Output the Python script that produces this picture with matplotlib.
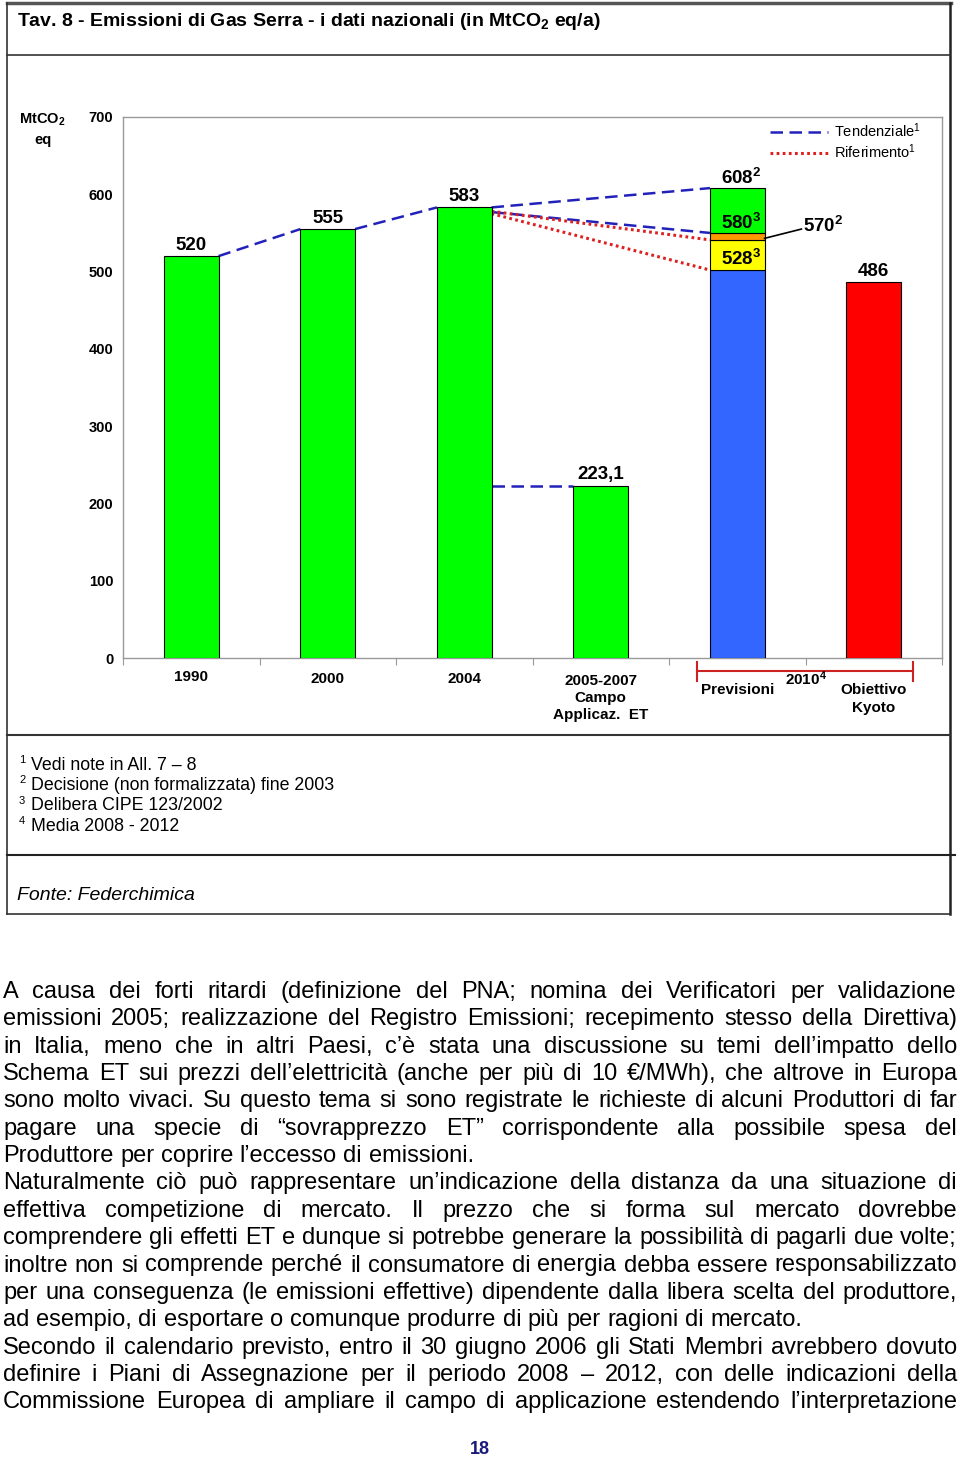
import matplotlib
matplotlib.use("Agg")
import matplotlib.pyplot as plt
from matplotlib.lines import Line2D

plt.rcParams['font.family'] = ['Liberation Sans', 'DejaVu Sans']
plt.rcParams['mathtext.default'] = 'regular'   # super/subscripts in the text font

########################################################################
### Data
categories = ["1990", "2000", "2004", "2005-2007\nCampo\nApplicaz.  ET"]
hist_values = [520, 555, 583, 223.1]
hist_labels = ["520", "555", "583", "223,1"]

# Previsioni 2010: stacked segments (top of blue, yellow, orange, green)
prev_levels = [502, 541, 550, 608]
prev_colors = ["#3366ff", "#ffff00", "#ff9900", "#00ff00"]
prev_labels = ["608$^2$", "580$^3$", "570$^2$", "528$^3$"]

kyoto_value = 486
kyoto_label = "486"

yticks = [0, 100, 200, 300, 400, 500, 600, 700]

# connecting lines: (from category, from value, to category, to value)
tend_lines = [(0, 520, 1, 555), (1, 555, 2, 583), (2, 583, 4, 608),
              (2, 577, 4, 550), (2, 223.1, 3, 223.1)]
rif_lines = [(2, 578, 4, 541), (2, 575, 4, 502)]

notes = ["Vedi note in All. 7 – 8",
         "Decisione (non formalizzata) fine 2003",
         "Delibera CIPE 123/2002",
         "Media 2008 - 2012"]

body_lines = [
    ("A causa dei forti ritardi (definizione del PNA; nomina dei Verificatori per validazione", True),
    ("emissioni 2005; realizzazione del Registro Emissioni; recepimento stesso della Direttiva)", True),
    ("in Italia, meno che in altri Paesi, c’è stata una discussione su temi dell’impatto dello", True),
    ("Schema ET sui prezzi dell’elettricità (anche per più di 10 €/MWh), che altrove in Europa", True),
    ("sono molto vivaci. Su questo tema si sono registrate le richieste di alcuni Produttori di far", True),
    ("pagare una specie di “sovrapprezzo ET” corrispondente alla possibile spesa del", True),
    ("Produttore per coprire l’eccesso di emissioni.", False),
    ("Naturalmente ciò può rappresentare un’indicazione della distanza da una situazione di", True),
    ("effettiva competizione di mercato. Il prezzo che si forma sul mercato dovrebbe", True),
    ("comprendere gli effetti ET e dunque si potrebbe generare la possibilità di pagarli due volte;", True),
    ("inoltre non si comprende perché il consumatore di energia debba essere responsabilizzato", True),
    ("per una conseguenza (le emissioni effettive) dipendente dalla libera scelta del produttore,", True),
    ("ad esempio, di esportare o comunque produrre di più per ragioni di mercato.", False),
    ("Secondo il calendario previsto, entro il 30 giugno 2006 gli Stati Membri avrebbero dovuto", True),
    ("definire i Piani di Assegnazione per il periodo 2008 – 2012, con delle indicazioni della", True),
    ("Commissione Europea di ampliare il campo di applicazione estendendo l’interpretazione", True),
]

########################################################################
### Figure and page overlay (pixel coordinates)
W, H = 960, 1463
fig = plt.figure(figsize=(W / 100, H / 100), dpi=100)
ov = fig.add_axes([0, 0, 1, 1])
ov.set_xlim(0, W)
ov.set_ylim(H, 0)
ov.axis("off")

# table frame
ov.plot([7, 951], [3, 3], color="#555555", lw=2.5)
ov.plot([7, 7], [3, 914], color="#333333", lw=1.2)
ov.plot([950, 950], [3, 914], color="#222222", lw=1.8)
ov.plot([7, 950], [55, 55], color="#333333", lw=1.2)
ov.plot([7, 950], [735, 735], color="#333333", lw=1.5)
ov.plot([7, 955], [855, 855], color="#222222", lw=1.5)
ov.plot([7, 950], [914, 914], color="#333333", lw=1.2)

ov.text(17, 21, "Tav. 8 - Emissioni di Gas Serra - i dati nazionali (in MtCO$_2$ eq/a)",
        fontsize=14, fontweight="bold", va="center", ha="left")
ov.text(42, 120, "MtCO$_2$", fontsize=10.5, fontweight="bold", va="center", ha="center")
ov.text(43, 140, "eq", fontsize=10.5, fontweight="bold", va="center", ha="center")

for i, n in enumerate(notes):
    y = 765 + i * 20.4
    ov.text(19, y - 5, str(i + 1), fontsize=8, va="center", ha="left")
    ov.text(31, y, n, fontsize=12.8, va="center", ha="left")
ov.text(17, 896, "Fonte: Federchimica", fontsize=14, style="italic", va="center", ha="left")

########################################################################
### Chart
ax = fig.add_axes([123 / W, 1 - 658 / H, (942 - 123) / W, (658 - 117) / H])
ax.set_xlim(-0.5, 5.5)
ax.set_ylim(0, 700)
bw = 0.4
VFS = 13.5

ax.bar(range(len(hist_values)), hist_values, width=bw, color="#00ff00",
       edgecolor="black", linewidth=0.8, zorder=3)
for i, (v, lab) in enumerate(zip(hist_values, hist_labels)):
    ax.text(i, v + 3, lab, ha="center", va="bottom", fontsize=VFS, fontweight="bold")

bottom = 0
for top, col in zip(prev_levels, prev_colors):
    ax.bar(4, top - bottom, bottom=bottom, width=bw, color=col,
           edgecolor="black", linewidth=0.8, zorder=3)
    bottom = top
ax.bar(5, kyoto_value, width=bw, color="#ff0000", edgecolor="black", linewidth=0.8, zorder=3)
ax.text(5, kyoto_value + 3, kyoto_label, ha="center", va="bottom", fontsize=VFS, fontweight="bold")

# Previsioni labels
ax.text(4.03, prev_levels[3], prev_labels[0], ha="center", va="bottom", fontsize=VFS, fontweight="bold")
ax.text(4.03, 563, prev_labels[1], ha="center", va="center", fontsize=VFS, fontweight="bold", zorder=4)
ax.text(4.03, 516, prev_labels[3], ha="center", va="center", fontsize=VFS, fontweight="bold", zorder=4)
ax.plot([4.2, 4.47], [543, 555], color="black", lw=1.2, zorder=4)
ax.text(4.48, 559, prev_labels[2], ha="left", va="center", fontsize=VFS, fontweight="bold")

tend_style = dict(color="#2222bb", lw=1.8, linestyle=(0, (5, 2.6)))
rif_style = dict(color="#dd2020", lw=2.2, linestyle=(0, (0.9, 1.1)))
for x0, y0, x1, y1 in tend_lines:
    ax.plot([x0 + bw / 2, x1 - bw / 2], [y0, y1], zorder=2, **tend_style)
for x0, y0, x1, y1 in rif_lines:
    ax.plot([x0 + bw / 2, x1 - bw / 2], [y0, y1], zorder=2, **rif_style)

# legend
hnd = [Line2D([], [], **tend_style), Line2D([], [], **rif_style)]
ax.legend(hnd, ["Tendenziale$^1$", "Riferimento$^1$"], loc="upper right",
          bbox_to_anchor=(0.99, 1.016), frameon=False, fontsize=10.5,
          handlelength=4.0, handletextpad=0.4, labelspacing=0.15)

# axes styling
ax.set_yticks(yticks)
ax.set_yticklabels([str(t) for t in yticks], fontweight="bold", fontsize=10.5)
ax.tick_params(axis="y", length=0, pad=7)
ax.set_xticks([i - 0.5 for i in range(7)])
ax.set_xticklabels([])
ax.tick_params(axis="x", length=5, color="#999999", direction="out")
for s in ax.spines.values():
    s.set_color("#999999")
    s.set_linewidth(1.0)

# category labels below the axis
xt = ax.get_xaxis_transform()
def ay(ypix):
    return (658 - ypix) / 541.0

ax.text(0, ay(677), categories[0], transform=xt, ha="center", va="center", fontsize=11, fontweight="bold")
for i in (1, 2):
    ax.text(i, ay(679), categories[i], transform=xt, ha="center", va="center", fontsize=11, fontweight="bold")
ax.text(3, ay(698), categories[3], transform=xt, ha="center", va="center", fontsize=11,
        fontweight="bold", linespacing=1.3)
ax.text(4, ay(690), "Previsioni", transform=xt, ha="center", va="center", fontsize=11, fontweight="bold")
ax.text(5, ay(699), "Obiettivo\nKyoto", transform=xt, ha="center", va="center", fontsize=11,
        fontweight="bold", linespacing=1.3)
ax.text(4.5, ay(679), "2010$^4$", transform=xt, ha="center", va="center", fontsize=11, fontweight="bold")

# bracket for 2010
bx0, bx1 = 3.705, 5.29
ax.plot([bx0, bx1], [ay(671), ay(671)], transform=xt, color="#cc2222", lw=1.5, clip_on=False)
for bx in (bx0, bx1):
    ax.plot([bx, bx], [ay(662), ay(681)], transform=xt, color="#cc2222", lw=1.5, clip_on=False)

########################################################################
### Body text, justified
BODY_FS = 17
renderer = fig.canvas.get_renderer()
def width_of(s):
    t = ov.text(0, 0, s, fontsize=BODY_FS)
    w = t.get_window_extent(renderer).width
    t.remove()
    return w

space_w = width_of("a a") - 2 * width_of("a")
for k, (line, just) in enumerate(body_lines):
    y = 992 + k * 27.35
    words = line.split(" ")
    widths = [width_of(wd) for wd in words]
    gap = (957 - 3 - sum(widths)) / (len(words) - 1) if just else space_w
    x = 3
    for wd, w in zip(words, widths):
        ov.text(x, y, wd, fontsize=BODY_FS, ha="left", va="center")
        x += w + gap

ov.text(480, 1450, "18", fontsize=13, fontweight="bold", color="#1a1a7a", ha="center", va="center")

fig.savefig("out.png", dpi=100)
